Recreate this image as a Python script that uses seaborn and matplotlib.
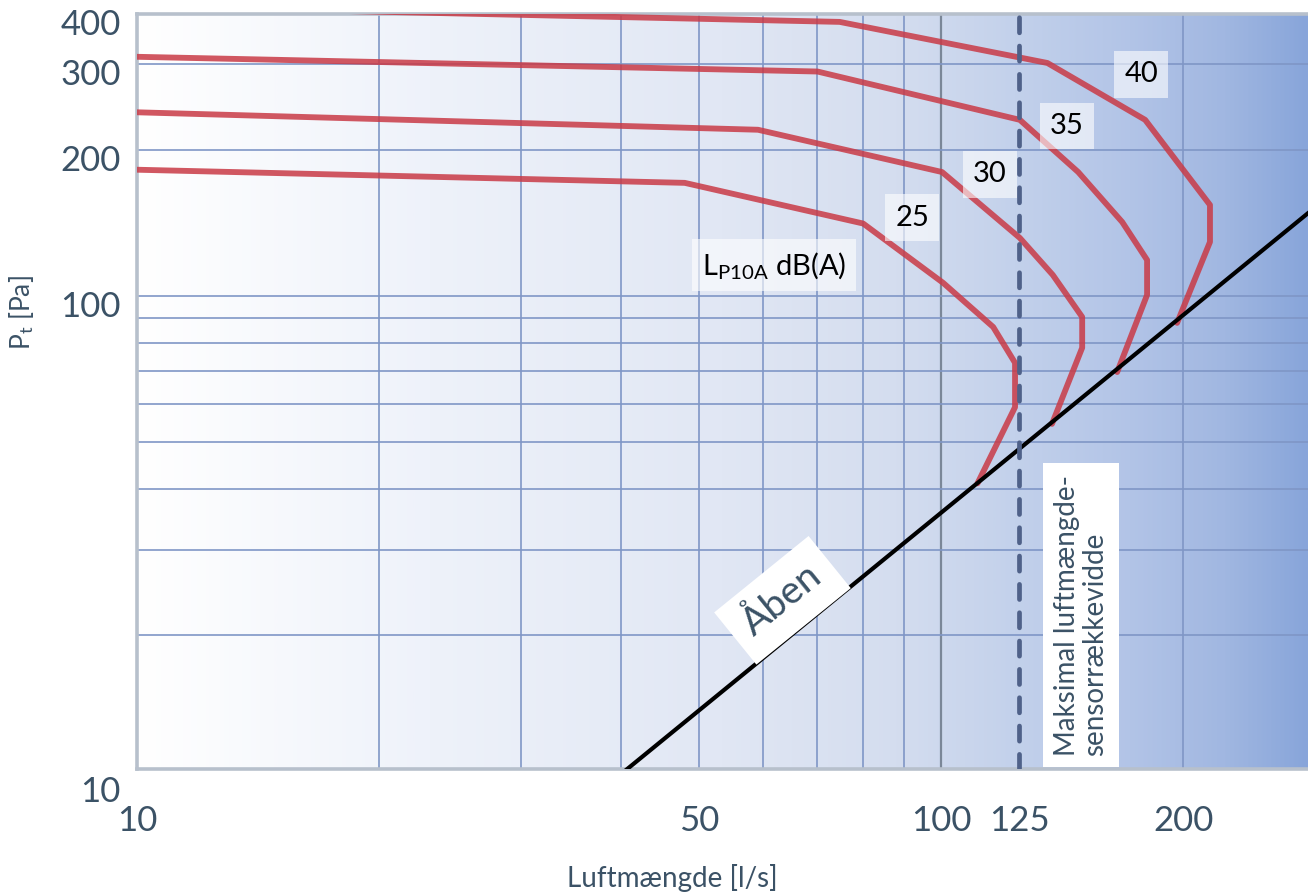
import numpy as np
import pandas as pd
import matplotlib
matplotlib.use("Agg")
import matplotlib.pyplot as plt
import matplotlib.transforms as mtransforms
from matplotlib.colors import LinearSegmentedColormap
from matplotlib.ticker import NullLocator
import seaborn as sns

# sound level curves L_P10A dB(A): airflow [l/s] vs total pressure [Pa]
flow_25 = [10, 48.0, 80.0, 100.6, 116.1, 123.6, 123.6, 111.0]
pt_25 = [182, 171, 141, 106.4, 86.3, 72.8, 59.0, 41.1]
flow_30 = [10, 59.2, 100.3, 125.3, 137.7, 149.8, 149.8, 137.4]
pt_30 = [239, 220, 180, 131.7, 110.5, 90.5, 78.2, 54.5]
flow_35 = [10, 70.2, 125.3, 148.1, 168.0, 180.4, 180.4, 165.6]
pt_35 = [311, 290, 230.6, 180, 142, 118.6, 100.5, 69.7]
flow_40 = [10, 74.8, 135.6, 179.4, 216.0, 216.0, 196.6]
pt_40 = [395, 367, 302, 230.6, 154, 129.2, 88.0]
levels = ["25", "30", "35", "40"]

# fully open damper line
open_flow = [40, 300]
open_pt = [10.35, 158]

max_sensor_flow = 125

grid_flow = [20, 30, 40, 50, 60, 70, 80, 90, 200]
grid_pt = [20, 30, 40, 50, 60, 70, 80, 90, 100, 200, 300]
xtick_vals = [10, 50, 100, 125, 200]
ytick_vals = [10, 100, 200, 300, 400]

TEXT = "#3b5266"
RED = "#c93a46"

sns.set_style("white")
plt.rcParams["font.family"] = ["Lato", "DejaVu Sans"]
plt.rcParams["mathtext.fontset"] = "custom"
plt.rcParams["mathtext.rm"] = "Lato"
plt.rcParams["mathtext.it"] = "Lato:italic"

rows = []
for lvl, q, p in zip(levels, [flow_25, flow_30, flow_35, flow_40],
                     [pt_25, pt_30, pt_35, pt_40]):
    for i, (qi, pi) in enumerate(zip(q, p)):
        rows.append({"level": lvl, "order": i, "flow": qi, "pt": pi})
curves = pd.DataFrame(rows)

fig = plt.figure(figsize=(13.08, 8.92), dpi=100)
pos = [137 / 1308, 123 / 892, 1171 / 1308, 755 / 892]

# background gradient
bg = fig.add_axes(pos, zorder=0)
cmap = LinearSegmentedColormap.from_list("bg", [
    (0.0, "#ffffff"), (0.25, "#eef2fa"), (0.5, "#e1e7f4"), (0.65, "#d4ddef"),
    (0.75, "#c3d1eb"), (0.85, "#b2c4e7"), (0.93, "#a1b7e1"), (1.0, "#88a5da"),
])
bg.imshow(np.linspace(0, 1, 512)[None, :], aspect="auto", cmap=cmap,
          extent=[0, 1, 0, 1])
bg.axis("off")

ax = fig.add_axes(pos, zorder=1)
ax.set_facecolor("none")
ax.set_xscale("log")
ax.set_yscale("log")
ax.set_xlim(10, 286)
ymax = 381
ax.set_ylim(10.6, ymax)

for v in grid_flow:
    ax.axvline(v, color="#7f96c6", lw=1.4, alpha=0.85, zorder=1)
ax.axvline(100, color="#7b8798", lw=1.6, zorder=1)
for v in grid_pt:
    ax.axhline(v, color="#7f96c6", lw=1.4, alpha=0.85, zorder=1)

sns.lineplot(data=curves, x="flow", y="pt", hue="level", units="level",
             estimator=None, sort=False, palette=[RED] * 4, lw=4.2,
             alpha=0.85, legend=False, ax=ax, zorder=3)
sns.lineplot(x=open_flow, y=open_pt, color="black", lw=3, ax=ax, zorder=4)
ax.axvline(max_sensor_flow, color="#4f6189", lw=3.4, ls=(0, (3.2, 2.8)),
           dash_capstyle="round", zorder=5)

ax.xaxis.set_minor_locator(NullLocator())
ax.yaxis.set_minor_locator(NullLocator())
ax.set_xticks(xtick_vals, [str(v) for v in xtick_vals])
ax.set_yticks([])
ax.tick_params(axis="x", length=0, pad=26, labelsize=25, labelcolor=TEXT)
ax.set_xlabel("")
ax.set_ylabel("")

ytrans = mtransforms.blended_transform_factory(ax.transAxes, ax.transData)
off = mtransforms.ScaledTranslation(0, -11 / 100, fig.dpi_scale_trans)
for v in ytick_vals:
    ax.text(-0.014, min(v, ymax), str(v), transform=ytrans + off, ha="right",
            va="center", fontsize=25, color=TEXT, clip_on=False)

for s in ["left", "bottom", "top"]:
    ax.spines[s].set_color("#b7c0cc")
    ax.spines[s].set_linewidth(2.6)
ax.spines["right"].set_visible(False)

label_box = dict(boxstyle="square,pad=0.35", fc="white", ec="none", alpha=0.6)
for txt, x, y in [("25", 92.1, 145), ("30", 115, 178), ("35", 143.5, 224),
                  ("40", 177.4, 286)]:
    ax.text(x, y, txt, ha="center", va="center", fontsize=21, color="black",
            bbox=label_box, zorder=6)
ax.text(62, 115.8, r"L$_{\mathrm{P10A}}$ dB(A)", ha="center", va="center",
        fontsize=21, color="black",
        bbox=dict(boxstyle="square,pad=0.35", fc="white", ec="none", alpha=0.6),
        zorder=6)

ax.text(63.5, 23.6, "Åben", rotation=39, rotation_mode="anchor", ha="center",
        va="center", fontsize=28, color=TEXT,
        bbox=dict(boxstyle="square,pad=0.4", fc="white", ec="none"), zorder=6)
ax.text(149.4, 11.3, "Maksimal luftmængde-\nsensorrækkevidde", rotation=90,
        ha="center", va="bottom", multialignment="left", fontsize=20,
        color=TEXT, linespacing=1.1,
        bbox=dict(boxstyle="square,pad=0.4", fc="white", ec="none"), zorder=6)

fig.text(672 / 1308, 14 / 892, "Luftmængde [l/s]", ha="center", va="center",
         fontsize=20, color=TEXT)
fig.text(22 / 1308, 579 / 892, r"P$_{\mathrm{t}}$ [Pa]", rotation=90,
         ha="center", va="center", fontsize=19, color=TEXT)

fig.savefig("out.png", dpi=100)
